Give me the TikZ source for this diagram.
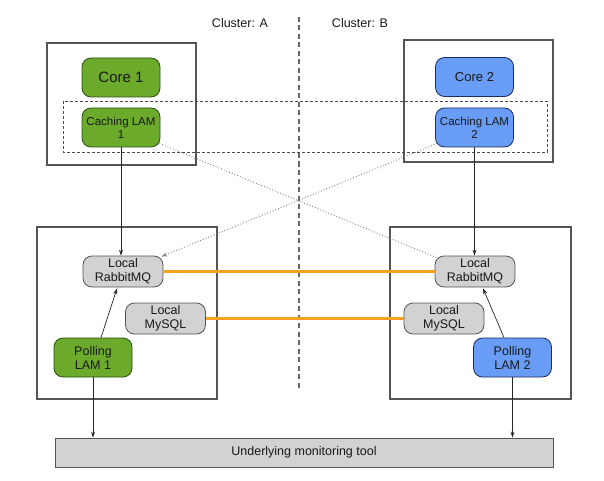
\documentclass[tikz,border=0pt]{standalone}
\usepackage{fontspec}
\setmainfont{Liberation Sans}
\usetikzlibrary{arrows.meta}
\definecolor{grn}{RGB}{108,170,44}
\definecolor{grnd}{RGB}{45,80,20}
\definecolor{blu}{RGB}{104,156,245}
\definecolor{blud}{RGB}{25,45,95}
\definecolor{gry}{RGB}{210,210,210}
\definecolor{gryd}{RGB}{85,85,85}
\definecolor{org}{RGB}{245,160,30}
\definecolor{framec}{RGB}{85,85,85}
\begin{document}
\begin{tikzpicture}[x=1pt,y=-1pt,
  comp/.style={rounded corners=9pt, minimum width=78pt, minimum height=39pt, inner sep=1pt, align=center, font=\fontsize{12.5}{14}\selectfont, line width=0.8pt, text=black!90},
  greenbox/.style={comp, fill=grn, draw=grnd},
  bluebox/.style={comp, fill=blu, draw=blud},
  graybox/.style={comp, fill=gry, draw=gryd, minimum width=80pt, minimum height=31pt},
  frame/.style={draw=framec, line width=2pt},
  arr/.style={draw=black!85, line width=0.7pt, -{Stealth[length=6pt,width=4pt]}},
  dotline/.style={draw=black!50, line width=0.9pt, dotted},
  orange/.style={draw=org, line width=2.2pt},
  lbl/.style={font=\fontsize{12.5}{14}\selectfont, text=black!90}]
\useasboundingbox (0,0) rectangle (604,481);

% cluster labels and divider
\node[lbl] (clA) at (240,23) {Cluster: A};
\node[lbl] (clB) at (360,23) {Cluster: B};
\coordinate (divtop) at (299,17);
\coordinate (divbot) at (299,390);
\draw[draw=black!60, line width=1.2pt, dash pattern=on 5pt off 3.5pt] (divtop) -- (divbot);

% frames
\draw[frame] (47,43) rectangle (196,165);
\draw[frame] (404,40) rectangle (553,162);
\draw[frame] (37,227) rectangle (217,399);
\draw[frame] (390,227) rectangle (571,399);

% dashed caching group
\draw[draw=black!70, line width=0.8pt, dash pattern=on 3pt off 2pt] (63,101) rectangle (547,152);

% nodes
\node[greenbox, font=\fontsize{15}{17}\selectfont] (core1) at (121,77.5) {Core 1};
\node[greenbox, font=\fontsize{11.5}{13}\selectfont] (cache1) at (121,127.5) {Caching LAM\\1};
\node[bluebox, font=\fontsize{13}{15}\selectfont] (core2) at (474.5,77) {Core 2};
\node[bluebox, font=\fontsize{11.5}{13}\selectfont] (cache2) at (474.5,127.5) {Caching LAM\\2};

\node[graybox] (rabL) at (123,271.5) {Local\\RabbitMQ};
\node[graybox] (myL) at (165.5,318.5) {Local\\MySQL};
\node[greenbox] (poll1) at (93,357.5) {Polling\\LAM 1};

\node[graybox] (rabR) at (475,271.5) {Local\\RabbitMQ};
\node[graybox] (myR) at (444,318.5) {Local\\MySQL};
\node[bluebox] (poll2) at (512.5,357.5) {Polling\\LAM 2};

\node[draw=gryd, fill=gry, line width=0.9pt, minimum width=498pt, minimum height=29pt, inner sep=0pt, lbl] (mon) at (304,452.5) {Underlying monitoring tool};

% connectors
\draw[arr] (cache1.south) -- (cache1.south |- rabL.north);
\draw[arr] (cache2.south) -- (cache2.south |- rabR.north);
\draw[arr] ([xshift=8pt]poll1.north) -- ([xshift=-6pt,yshift=-1pt]rabL.south);
\draw[arr] ([xshift=-8.5pt]poll2.north) -- ([xshift=8pt,yshift=-1pt]rabR.south);
\draw[arr] (poll1.south) -- (poll1.south |- mon.north);
\draw[arr] (poll2.south) -- (poll2.south |- mon.north);

\draw[dotline] ([xshift=-1pt,yshift=4pt]cache1.south east) -- ([xshift=2pt,yshift=-2pt]rabR.north west);
\draw[dotline, -{Stealth[length=6pt,width=4pt]}] ([xshift=2pt,yshift=4pt]cache2.south west) -- ([xshift=-2pt,yshift=-1pt]rabL.north east);

\draw[orange] (rabL.east) -- (rabR.west);
\draw[orange] (myL.east) -- (myR.west);
\end{tikzpicture}
\end{document}
